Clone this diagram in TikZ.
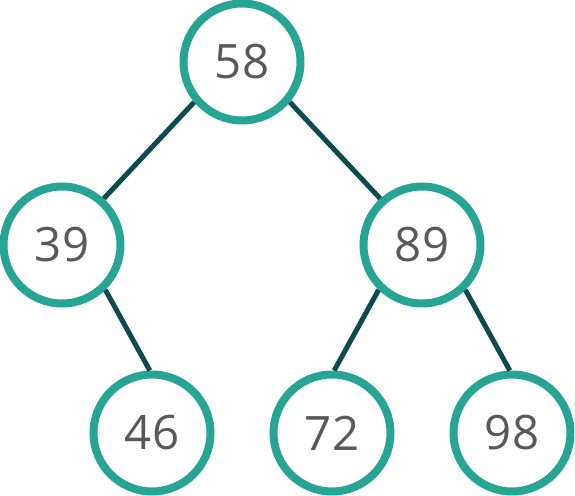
\documentclass[tikz,border=0pt]{standalone}
\usepackage{fontspec}
\setmainfont{Open Sans}
\definecolor{ringteal}{HTML}{26A592}
\definecolor{edgeteal}{HTML}{0E4A4F}
\definecolor{numgray}{HTML}{595959}

\begin{document}
\begin{tikzpicture}[x=0.02cm,y=-0.02cm,
  vertex/.style={circle,draw=ringteal,line width=0.16cm,fill=white,
    minimum size=2.34cm,inner sep=0pt,text=numgray,
    font=\fontsize{27}{32}\selectfont},
  edge/.style={draw=edgeteal,line width=0.1cm}]
  \useasboundingbox (0,0) rectangle (575,496);
  \node[vertex] (n58) at (242,62) {58};
  \node[vertex] (n39) at (62,245) {39};
  \node[vertex] (n89) at (422,245) {89};
  \node[vertex] (n46) at (152,433) {46};
  \node[vertex] (n72) at (332,433) {72};
  \node[vertex] (n98) at (512,433) {98};
  \draw[edge] (n58.-140) -- (n39.48);
  \draw[edge] (n58.-40) -- (n89.132);
  \draw[edge] (n39.-46) -- (n46.92);
  \draw[edge] (n89.-134) -- (n72.88);
  \draw[edge] (n89.-46) -- (n98.92);
\end{tikzpicture}
\end{document}
